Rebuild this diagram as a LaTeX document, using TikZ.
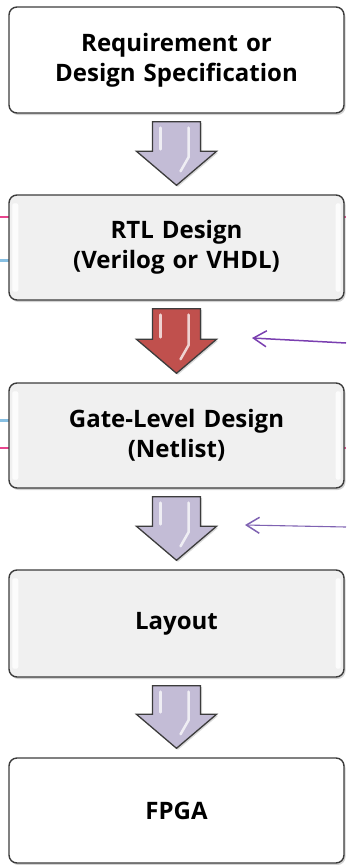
\documentclass[tikz,border=0pt]{standalone}
\usepackage{fontspec}
\setmainfont{Open Sans}[BoldFont={* Bold}]
\usetikzlibrary{calc,shadows,arrows.meta}
\definecolor{boxline}{HTML}{3C3C3C}
\definecolor{boxgray}{HTML}{F0F0F0}
\definecolor{arrowlav}{HTML}{C3BCD6}
\definecolor{arrowred}{HTML}{C0504D}
\definecolor{purpA}{HTML}{7A3FB0}
\definecolor{purpB}{HTML}{7F62B2}
\definecolor{markpink}{HTML}{E8448E}
\definecolor{markblue}{HTML}{6AB0DC}
\tikzset{
  stagebox/.style={draw=boxline, line width=1.4pt, rounded corners=8pt,
    minimum width=335pt, text width=325pt, align=center,
    font=\bfseries\fontsize{24}{30}\selectfont,
    drop shadow={shadow xshift=1.5pt, shadow yshift=-2pt, opacity=0.35, fill=gray}},
  whitebox/.style={stagebox, fill=white},
  graybox/.style={stagebox, fill=boxgray},
  blockarrowstyle/.style={draw=boxline, line width=1.3pt, line join=miter},
  gloss/.style={white, line width=2.5pt, line cap=round, opacity=0.75},
  sidearrow/.style={line width=1.5pt, -{Straight Barb[length=13pt,width=16pt,line width=1.5pt]}},
}
\newcommand\flowarrow[3]{%
  \fill[gray, opacity=0.3] let \p1=($(#1.south)+(0,8)$), \p2=($(#2.north)+(0,-9)$) in
    (\x1-22.5pt,\y1-1.5pt) -- (\x1+25.5pt,\y1-1.5pt) -- (\x1+25.5pt,\y2+32.5pt) -- (\x1+41.5pt,\y2+32.5pt)
    -- (\x1+1.5pt,\y2-1.5pt) -- (\x1-38.5pt,\y2+32.5pt) -- (\x1-22.5pt,\y2+32.5pt) -- cycle;
  \draw[blockarrowstyle, fill=#3] let \p1=($(#1.south)+(0,8)$), \p2=($(#2.north)+(0,-9)$) in
    (\x1-24pt,\y1) -- (\x1+24pt,\y1) -- (\x1+24pt,\y2+34pt) -- (\x1+40pt,\y2+34pt)
    -- (\x1,\y2) -- (\x1-40pt,\y2+34pt) -- (\x1-24pt,\y2+34pt) -- cycle;
  \draw[gloss] let \p1=($(#1.south)+(0,8)$), \p2=($(#2.north)+(0,-9)$) in
    (\x1-16pt,\y1-6pt) -- (\x1-16pt,\y2+36pt);
  \draw[gloss] let \p1=($(#1.south)+(0,8)$), \p2=($(#2.north)+(0,-9)$) in
    (\x1+12pt,\y1-6pt) -- (\x1+12pt,\y2+28pt) -- (\x1+4pt,\y2+14pt);
}
\newcommand\sidegloss[1]{%
  \fill[white, opacity=0.85, rounded corners=2pt] ($(#1.north west)+(4,9)$) rectangle ($(#1.south west)+(10,-9)$);
  \fill[white, opacity=0.85, rounded corners=2pt] ($(#1.north east)+(-4,9)$) rectangle ($(#1.south east)+(-9,-9)$);
}
\begin{document}
\begin{tikzpicture}[x=1pt, y=-1pt]
\useasboundingbox (0,0) rectangle (346,865);
% edge marks
\draw[markpink, line width=2pt] (0,217) -- (10,217) (343,217) -- (346,217);
\draw[markblue, line width=3pt, opacity=0.8] (0,260) -- (10,260);
\draw[markblue, line width=3pt, opacity=0.8] (0,420) -- (10,420);
\draw[markpink, line width=2pt] (0,448) -- (10,448) (343,448) -- (346,448);
% boxes
\node[whitebox, minimum height=106pt] (req) at (176.5,60) {Requirement or\\Design Specification};
\node[graybox, minimum height=105pt] (rtl) at (176.5,247.5) {RTL Design\\(Verilog or VHDL)};
\node[graybox, minimum height=105pt] (gate) at (176.5,435.5) {Gate-Level Design\\(Netlist)};
\node[graybox, minimum height=107pt] (lay) at (176.5,623.5) {Layout};
\node[whitebox, minimum height=105pt] (fpga) at (176.5,810.5) {FPGA};
\sidegloss{rtl}
\sidegloss{gate}
\sidegloss{lay}
% block arrows
\flowarrow{req}{rtl}{arrowlav}
\flowarrow{rtl}{gate}{arrowred}
\flowarrow{gate}{lay}{arrowlav}
\flowarrow{lay}{fpga}{arrowlav}
% side arrows
\coordinate (s1from) at (346,343);
\coordinate (s1to) at (252,338);
\coordinate (s2from) at (346,527);
\coordinate (s2to) at (245,525);
\draw[sidearrow, purpA] (s1from) -- (s1to);
\draw[sidearrow, purpB, line width=1.1pt] (s2from) -- (s2to);
\end{tikzpicture}
\end{document}
